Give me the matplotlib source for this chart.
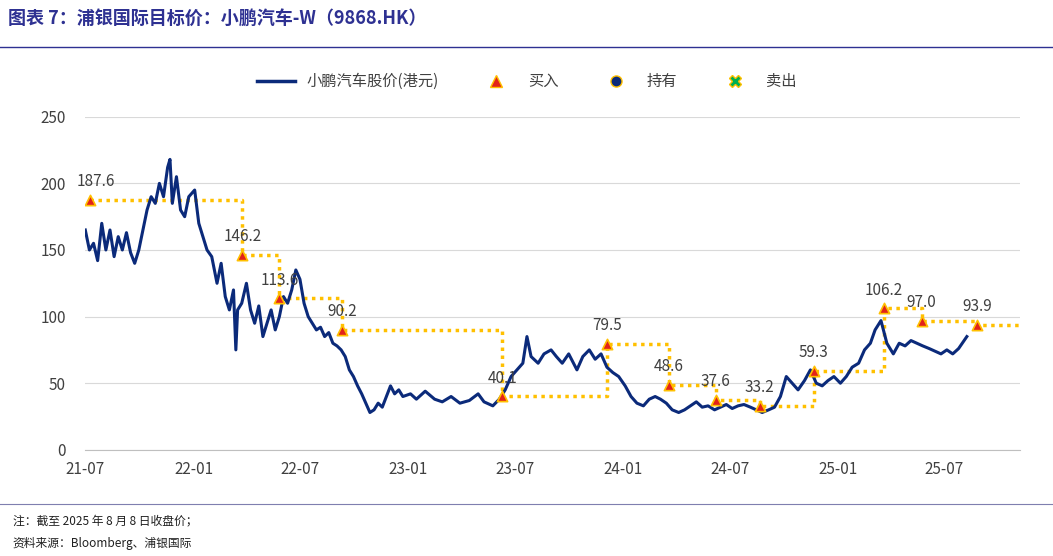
import pandas as pd
import matplotlib.pyplot as plt
import matplotlib.dates as mdates
from matplotlib.lines import Line2D

plt.rcParams['font.family'] = ['Noto Sans CJK SC', 'DejaVu Sans']

price_dates = [
    '2021-07-01', '2021-07-08', '2021-07-15', '2021-07-22', '2021-07-29', '2021-08-05', '2021-08-12',
    '2021-08-19', '2021-08-26', '2021-09-02', '2021-09-09', '2021-09-16', '2021-09-23', '2021-09-30',
    '2021-10-07', '2021-10-14', '2021-10-21', '2021-10-28', '2021-11-04', '2021-11-11', '2021-11-18',
    '2021-11-22', '2021-11-26', '2021-12-03', '2021-12-10', '2021-12-17', '2021-12-24', '2022-01-03',
    '2022-01-10', '2022-01-17', '2022-01-24', '2022-02-01', '2022-02-10', '2022-02-17', '2022-02-24',
    '2022-03-03', '2022-03-10', '2022-03-14', '2022-03-17', '2022-03-24', '2022-04-01', '2022-04-08',
    '2022-04-15', '2022-04-22', '2022-04-29', '2022-05-06', '2022-05-13', '2022-05-20', '2022-05-27',
    '2022-06-03', '2022-06-10', '2022-06-17', '2022-06-24', '2022-07-01', '2022-07-08', '2022-07-15',
    '2022-07-22', '2022-07-29', '2022-08-05', '2022-08-12', '2022-08-19', '2022-08-26', '2022-09-02',
    '2022-09-09', '2022-09-16', '2022-09-23', '2022-09-30', '2022-10-07', '2022-10-14', '2022-10-21',
    '2022-10-28', '2022-11-04', '2022-11-11', '2022-11-18', '2022-11-25', '2022-12-02', '2022-12-09',
    '2022-12-16', '2022-12-23', '2023-01-05', '2023-01-15', '2023-01-30', '2023-02-15', '2023-02-28',
    '2023-03-15', '2023-03-30', '2023-04-15', '2023-04-30', '2023-05-10', '2023-05-25', '2023-06-05',
    '2023-06-15', '2023-06-25', '2023-07-05', '2023-07-15', '2023-07-22', '2023-07-29', '2023-08-10',
    '2023-08-20', '2023-09-01', '2023-09-10', '2023-09-20', '2023-10-01', '2023-10-15', '2023-10-25',
    '2023-11-05', '2023-11-15', '2023-11-25', '2023-12-05', '2023-12-15', '2023-12-25', '2024-01-05',
    '2024-01-15', '2024-01-25', '2024-02-05', '2024-02-15', '2024-02-25', '2024-03-05', '2024-03-15',
    '2024-03-25', '2024-04-05', '2024-04-15', '2024-04-25', '2024-05-05', '2024-05-15', '2024-05-25',
    '2024-06-05', '2024-06-15', '2024-06-25', '2024-07-05', '2024-07-15', '2024-07-25', '2024-08-05',
    '2024-08-15', '2024-08-25', '2024-09-05', '2024-09-15', '2024-09-25', '2024-10-05', '2024-10-15',
    '2024-10-25', '2024-11-05', '2024-11-15', '2024-11-25', '2024-12-05', '2024-12-15', '2024-12-25',
    '2025-01-05', '2025-01-15', '2025-01-25', '2025-02-05', '2025-02-15', '2025-02-25', '2025-03-05',
    '2025-03-15', '2025-03-25', '2025-04-05', '2025-04-15', '2025-04-25', '2025-05-05', '2025-05-15',
    '2025-05-25', '2025-06-05', '2025-06-15', '2025-06-25', '2025-07-05', '2025-07-15', '2025-07-25',
    '2025-08-08',
]
price_values = [
    165, 150, 155, 142, 170, 150, 165, 145, 160, 150, 163, 148, 140, 150,
    165, 180, 190, 185, 200, 190, 212, 218, 185, 205, 180, 175, 190, 195,
    170, 160, 150, 145, 125, 140, 115, 105, 120, 75, 105, 110, 125, 105,
    95, 108, 85, 95, 105, 90, 100, 115, 110, 120, 135, 128, 110, 100,
    95, 90, 92, 85, 88, 80, 78, 75, 70, 60, 55, 48, 42, 35,
    28, 30, 35, 32, 40, 48, 42, 45, 40, 42, 38, 44, 38, 36,
    40, 35, 37, 42, 36, 33, 38, 45, 55, 60, 65, 85, 70, 65,
    72, 75, 70, 65, 72, 60, 70, 75, 68, 72, 62, 58, 55, 48,
    40, 35, 33, 38, 40, 38, 35, 30, 28, 30, 33, 36, 32, 33,
    30, 32, 34, 31, 33, 34, 32, 30, 28, 30, 32, 40, 55, 50,
    45, 52, 60, 50, 48, 52, 55, 50, 55, 62, 65, 75, 80, 90,
    97, 80, 72, 80, 78, 82, 80, 78, 76, 74, 72, 75, 72, 76,
    85,
]

target_dates = ['2021-07-09', '2022-03-25', '2022-05-27', '2022-09-11', '2023-06-10', '2023-12-05',
                '2024-03-19', '2024-06-07', '2024-08-21', '2024-11-21', '2025-03-20', '2025-05-23',
                '2025-08-26']
target_values = [187.6, 146.2, 113.6, 90.2, 40.1, 79.5, 48.6, 37.6, 33.2, 59.3, 106.2, 97.0, 93.9]
axis_end = '2025-11-07'

price_x = pd.to_datetime(price_dates)
tgt_x = pd.to_datetime(target_dates)

fig = plt.figure(figsize=(10.53, 5.56), dpi=100)
ax = fig.add_axes([0.081, 0.191, 0.888, 0.599])

navy = '#0B2A7A'
gold = '#FFC000'

ax.plot(price_x, price_values, color=navy, lw=2.2, zorder=3)
step_x = list(tgt_x) + [pd.Timestamp(axis_end)]
step_y = target_values + [target_values[-1]]
ax.plot(step_x, step_y, drawstyle='steps-post', color=gold, lw=2.5, ls=(0, (1, 1.3)), zorder=2)
ax.scatter(tgt_x, target_values, marker='^', s=55, color='#E2231A', edgecolor=gold, lw=1.2, zorder=4)
for i, (x, v) in enumerate(zip(tgt_x, target_values)):
    dx = 4 if i == 0 else 0
    ax.annotate(f'{v:.1f}', (x, v), xytext=(dx, 7), textcoords='offset points', ha='center',
                va='bottom', fontsize=11, color='#404040', zorder=5)

ax.set_xlim(pd.Timestamp('2021-07-01'), pd.Timestamp(axis_end))
ax.set_ylim(0, 250)
ax.set_yticks(range(0, 251, 50))
ax.xaxis.set_major_locator(mdates.MonthLocator(bymonth=[1, 7]))
ax.xaxis.set_major_formatter(mdates.DateFormatter('%y-%m'))
ax.tick_params(labelsize=11, colors='#404040', length=0, pad=8)
ax.tick_params(axis='y', pad=14)
ax.grid(axis='y', color='#D9D9D9', lw=0.8)
for s in ['top', 'right', 'left']:
    ax.spines[s].set_visible(False)
ax.spines['bottom'].set_color('#BFBFBF')

handles = [
    Line2D([], [], color=navy, lw=2.5),
    Line2D([], [], marker='^', ls='', color='#E2231A', markeredgecolor=gold, markersize=8),
    Line2D([], [], marker='o', ls='', color=navy, markeredgecolor=gold, markersize=8),
    Line2D([], [], marker='X', ls='', color='#00B050', markeredgecolor=gold, markersize=8),
]
labels = ['小鹏汽车股价(港元)', '买入', '持有', '卖出']
fig.legend(handles, labels, loc='center', bbox_to_anchor=(0.5, 0.853), ncol=4, frameon=False,
           fontsize=11, labelcolor='#404040', columnspacing=2.5, handlelength=2.5)

fig.text(0.008, 0.965, '图表 7：浦银国际目标价：小鹏汽车-W（9868.HK）', fontsize=13,
         fontweight='bold', color='#2E3192', va='center')
fig.add_artist(Line2D([0.0, 1.0], [0.915, 0.915], color='#2E3192', lw=1))
fig.add_artist(Line2D([0.0, 1.0], [0.093, 0.093], color='#7F7FAF', lw=0.8))
fig.text(0.012, 0.063, '注：截至 2025 年 8 月 8 日收盘价；', fontsize=8.5, color='#202020', va='center')
fig.text(0.012, 0.022, '资料来源：Bloomberg、浦银国际', fontsize=8.5, color='#202020', va='center')

fig.savefig('out.png', dpi=100)
